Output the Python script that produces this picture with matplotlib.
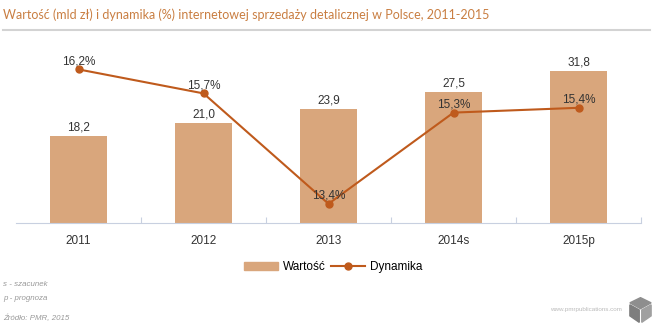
import matplotlib
matplotlib.use("Agg")
from matplotlib import pyplot as plt
from matplotlib.lines import Line2D
from matplotlib.patches import Patch, Polygon

years = ['2011', '2012', '2013', '2014s', '2015p']
wartosc = [18.2, 21.0, 23.9, 27.5, 31.8]
dynamika = [16.2, 15.7, 13.4, 15.3, 15.4]

bar_color = '#D9A67C'
line_color = '#BF5A1C'
title_color = '#C97E42'
text_color = '#333333'
note_color = '#999999'

plt.rcParams['font.family'] = ['Liberation Sans', 'DejaVu Sans']

fig = plt.figure(figsize=(6.55, 3.26), dpi=100)
W, H = 655, 326

# titel + grijze lijn
fig.text(3 / W, 1 - 15 / H, 'Wartość (mld zł) i dynamika (%) internetowej sprzedaży detalicznej w Polsce, 2011-2015',
         color=title_color, fontsize=9.0, va='center', ha='left', family=['Lato', 'DejaVu Sans'])
fig.add_artist(Line2D([3 / W, 650 / W], [1 - 30 / H, 1 - 30 / H], color='#D3D3D3', lw=1.5))

ax = fig.add_axes([16 / W, 1 - 223 / H, 625 / W, 183 / H])
x = list(range(len(years)))
ax.bar(x, wartosc, width=0.46, color=bar_color, zorder=1)
ax.set_xlim(-0.5, 4.5)
ax.set_ylim(0, 38.3)
for s in ['top', 'right', 'left']:
    ax.spines[s].set_visible(False)
ax.spines['bottom'].set_color('#C8D0E0')
ax.set_yticks([])
ax.set_xticks([0.5, 1.5, 2.5, 3.5, 4.5])
ax.set_xticklabels([])
ax.tick_params(axis='x', length=4, color='#C8D0E0', direction='in')
for xi, lab in zip(x, years):
    ax.annotate(lab, (xi, 0), xycoords=('data', 'axes fraction'), xytext=(0, -15), textcoords='offset points',
                ha='center', va='baseline', fontsize=8.5, color=text_color)
for xi, v in zip(x, wartosc):
    ax.annotate(('%.1f' % v).replace('.', ','), (xi, v), xytext=(0, 6), textcoords='offset points',
                ha='center', va='center', fontsize=8.5, color=text_color)

ax2 = ax.twinx()
ax2.plot(x, dynamika, color=line_color, lw=1.5, marker='o', markersize=5, zorder=3)
ax2.set_ylim(13.0, 13.0 + 183 / 48)
ax2.axis('off')
for xi, v in zip(x, dynamika):
    ax2.annotate(('%.1f%%' % v).replace('.', ','), (xi, v), xytext=(0, 6), textcoords='offset points',
                 ha='center', va='center', fontsize=8.5, color=text_color)

handles = [Patch(color=bar_color),
           Line2D([], [], color=line_color, lw=1.5, marker='o', markersize=5)]
fig.legend(handles, ['Wartość', 'Dynamika'], loc='center', bbox_to_anchor=(333 / W, 1 - 267 / H),
           ncol=2, frameon=False, fontsize=8.5, handlelength=2.9, handletextpad=0.4, columnspacing=0.4)

# voetnoten
fig.text(3 / W, 1 - 285 / H, 's - szacunek', fontsize=5.7, style='italic', color=note_color, va='center')
fig.text(3 / W, 1 - 298 / H, 'p - prognoza', fontsize=5.7, style='italic', color=note_color, va='center')
fig.text(3 / W, 1 - 318 / H, 'Źródło: PMR, 2015', fontsize=5.7, style='italic', color=note_color, va='center')
fig.text(622 / W, 1 - 310 / H, 'www.pmrpublications.com', fontsize=4.5, color='#BBBBBB', ha='right', va='center')

# logo kubus
lax = fig.add_axes([628 / W, 1 - 323 / H, 25 / W, 26 / H])
lax.set_xlim(-1, 1)
lax.set_ylim(-1, 1)
lax.axis('off')
lax.add_patch(Polygon([(0, 0.1), (-0.85, 0.55), (0, 0.95), (0.85, 0.55)], color='#8E8E8E'))
lax.add_patch(Polygon([(-0.85, 0.4), (-0.1, 0), (-0.1, -0.95), (-0.85, -0.45)], color='#7E7E7E'))
lax.add_patch(Polygon([(0.85, 0.4), (0.1, 0), (0.1, -0.95), (0.85, -0.45)], color='#A0A0A0'))

fig.savefig('out.png', dpi=100)
